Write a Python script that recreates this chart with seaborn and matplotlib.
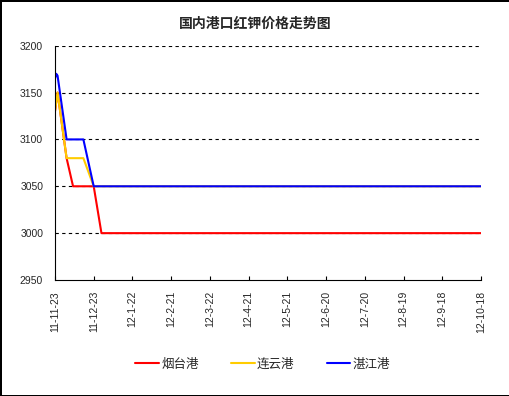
import numpy as np
import pandas as pd
import matplotlib.pyplot as plt
import seaborn as sns

# x is days since 2011-11-23, ticks every 30 days
tick_labels = ["11-11-23", "11-12-23", "12-1-22", "12-2-21", "12-3-22", "12-4-21",
               "12-5-21", "12-6-20", "12-7-20", "12-8-19", "12-9-18", "12-10-18"]
ports = ["烟台港", "连云港", "湛江港"]

yantai_day = [0, 2, 9, 14, 30, 36, 330]
yantai_val = [3130, 3150, 3080, 3050, 3050, 3000, 3000]

lianyun_day = [0, 2, 9, 22, 30, 330]
lianyun_val = [3130, 3150, 3080, 3080, 3050, 3050]

zhanjiang_day = [0, 1, 2, 9, 22, 30, 330]
zhanjiang_val = [3165, 3170, 3168, 3100, 3100, 3050, 3050]

colors = ["#FF0000", "#FFCC00", "#0000FF"]

frames = []
for name, d, v in zip(ports, [yantai_day, lianyun_day, zhanjiang_day],
                      [yantai_val, lianyun_val, zhanjiang_val]):
    frames.append(pd.DataFrame({"day": d, "price": v, "port": name}))
data = pd.concat(frames, ignore_index=True)

sns.set_style("white")
plt.rcParams['font.family'] = ['Liberation Sans', 'Noto Sans CJK SC', 'DejaVu Sans']

fig = plt.figure(figsize=(5.1, 3.96), dpi=100, edgecolor="black", linewidth=2)
ax = fig.add_axes([0.1078, 0.2929, 0.8353, 0.5917])

sns.lineplot(data=data, x="day", y="price", hue="port", hue_order=ports,
             palette=colors, linewidth=1.5, ax=ax, legend=False)

ax.set_xlim(0, 330)
ax.set_ylim(2950, 3200)
ax.set_yticks(range(2950, 3201, 50))
ax.set_xticks(range(0, 331, 30))
ax.set_xticklabels(tick_labels, rotation=90, fontsize=7.5)
ax.tick_params(axis="y", labelsize=7.5, length=0, pad=8.5)
ax.tick_params(axis="x", direction="in", length=3, width=0.8, color="black", pad=8,
               bottom=True)
for v in [3000, 3050, 3100, 3150, 3200]:
    ax.axhline(v, color="black", linestyle=(0, (3, 3)), linewidth=0.8, zorder=0)

for s in ["top", "right"]:
    ax.spines[s].set_visible(False)
for s in ["left", "bottom"]:
    ax.spines[s].set_color("black")
    ax.spines[s].set_linewidth(0.8)
ax.set_xlabel("")
ax.set_ylabel("")

fig.text(0.5, 0.94, "国内港口红钾价格走势图", ha="center", va="center",
         fontsize=10, fontweight="bold", family=['Noto Sans CJK SC'])

handles = [plt.Line2D([], [], color=c, linewidth=1.5) for c in colors]
fig.legend(handles, ports, loc="center", bbox_to_anchor=(0.515, 0.08), ncol=3,
           frameon=False, handlelength=1.9, handletextpad=0.15,
           columnspacing=2.6, prop={"family": ['Noto Sans CJK SC'], "size": 9})

fig.savefig("out.png", dpi=100)
